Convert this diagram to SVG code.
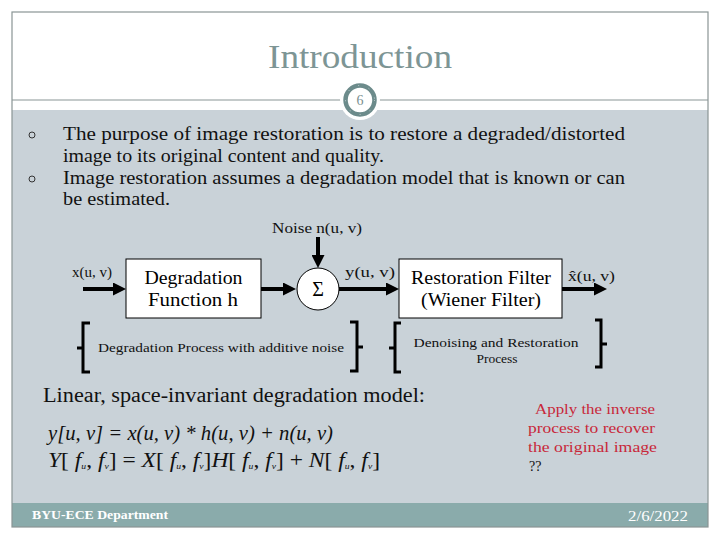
<svg xmlns="http://www.w3.org/2000/svg" width="720" height="540" viewBox="0 0 720 540">
<defs>
<style>
.serif{font-family:"Liberation Serif","DejaVu Serif",serif;}
.lbl{font-family:"Liberation Serif","DejaVu Serif",serif;font-size:15px;fill:#111;}
.boxt{font-family:"Liberation Serif","DejaVu Serif",serif;font-size:18px;fill:#000;text-anchor:middle;}
.bul{font-family:"Liberation Serif","DejaVu Serif",serif;font-size:19px;fill:#111;}
.box{fill:#fff;stroke:#000;stroke-width:1;}
.conn{stroke:#000;stroke-width:4;fill:none;marker-end:url(#ah);}
.brk{stroke:#000;stroke-width:3;fill:none;}
.red{font-family:"Liberation Serif","DejaVu Serif",serif;font-size:15px;fill:#c8283a;}
.eq{font-family:"Liberation Serif","Times New Roman",serif;font-size:22px;fill:#111;}
.it{font-style:italic;}
</style>
<marker id="ah" markerUnits="userSpaceOnUse" markerWidth="13" markerHeight="13" refX="2" refY="6.5" orient="auto">
<path d="M0,0 L13,6.5 L0,13 z" fill="#000"/>
</marker>
</defs>
<rect x="0" y="0" width="720" height="540" fill="#fff"/>
<rect x="12" y="110" width="696" height="393" fill="#c9d2d8"/>
<rect x="12" y="503" width="696" height="24" fill="#8aabab"/>
<rect x="12" y="12" width="696" height="515" fill="none" stroke="#8a9595" stroke-width="1.2"/>
<line x1="12" y1="100" x2="708" y2="100" stroke="#8a9595" stroke-width="1.2"/>
<g id="slide-number">
<circle cx="360" cy="100" r="20" fill="#fff"/>
<circle cx="360" cy="100" r="14.5" fill="#fff" stroke="#6c8b8b" stroke-width="4.5"/>
<circle cx="360" cy="100" r="14.5" fill="none" stroke="#c8d6d6" stroke-width="1" stroke-dasharray="1 10"/>
<text x="360" y="105" class="serif" font-size="14" fill="#7a8f8f" text-anchor="middle">6</text>
</g>
<text x="360" y="68" class="serif" font-size="34" fill="#7d9595" text-anchor="middle" textLength="184" lengthAdjust="spacingAndGlyphs">Introduction</text>
<g id="bullets">
<circle cx="32" cy="135" r="3" fill="none" stroke="#333" stroke-width="1"/>
<circle cx="32" cy="179" r="3" fill="none" stroke="#333" stroke-width="1"/>
<text x="63" y="140" class="bul" textLength="562" lengthAdjust="spacingAndGlyphs">The purpose of image restoration is to restore a degraded/distorted</text>
<text x="63" y="162" class="bul" textLength="321" lengthAdjust="spacingAndGlyphs">image to its original content and quality.</text>
<text x="63" y="184" class="bul" textLength="562" lengthAdjust="spacingAndGlyphs">Image restoration assumes a degradation model that is known or can</text>
<text x="63" y="205" class="bul" textLength="107" lengthAdjust="spacingAndGlyphs">be estimated.</text>
</g>
<g id="connectors">
<line class="conn" x1="83" y1="289" x2="115" y2="289"/>
<line class="conn" x1="261" y1="289" x2="285" y2="289"/>
<line class="conn" x1="318" y1="237" x2="318" y2="257"/>
<line class="conn" x1="339" y1="289" x2="388" y2="289"/>
<line class="conn" x1="562" y1="289" x2="596" y2="289"/>
</g>
<g id="input-label"><text x="72" y="277" class="lbl">x(u, v)</text></g>
<g id="noise-label"><text x="272" y="233" class="lbl" textLength="90" lengthAdjust="spacingAndGlyphs">Noise n(u, v)</text></g>
<g id="degradation">
<rect class="box" x="126" y="259" width="135" height="59"/>
<text x="193.5" y="284" class="boxt" textLength="98" lengthAdjust="spacingAndGlyphs">Degradation</text>
<text x="193" y="306" class="boxt" textLength="90" lengthAdjust="spacingAndGlyphs">Function  h</text>
</g>
<g id="sum">
<circle cx="318" cy="289" r="21" fill="#fff" stroke="#000" stroke-width="1"/>
<text x="318" y="296" class="serif" font-size="20" fill="#000" text-anchor="middle">Σ</text>
</g>
<g id="y-label"><text x="345" y="277" class="lbl" textLength="50" lengthAdjust="spacingAndGlyphs">y(u, v)</text></g>
<g id="restoration">
<rect class="box" x="399" y="259" width="163" height="59"/>
<text x="481" y="284" class="boxt" textLength="140" lengthAdjust="spacingAndGlyphs">Restoration Filter</text>
<text x="481" y="306" class="boxt" textLength="120" lengthAdjust="spacingAndGlyphs">(Wiener Filter)</text>
</g>
<g id="xhat-label">
<text x="568" y="281" class="lbl" textLength="47" lengthAdjust="spacingAndGlyphs">x̂(u, v)</text>
</g>
<g id="degradation-process">
<path class="brk" d="M90,323 H83 V372 H90 M83,348 H77"/>
<path class="brk" d="M350,322 H357 V371 H350 M357,347 H363"/>
<text x="98" y="352" class="serif" font-size="13.5" fill="#111" textLength="246" lengthAdjust="spacingAndGlyphs">Degradation Process with additive noise</text>
</g>
<g id="restoration-process">
<path class="brk" d="M401,323 H395 V372 H401 M395,348 H389"/>
<path class="brk" d="M595,320 H601 V367 H595 M601,344 H607"/>
<text x="496" y="347" class="serif" font-size="13.5" fill="#111" text-anchor="middle" textLength="165" lengthAdjust="spacingAndGlyphs">Denoising and Restoration</text>
<text x="497" y="363" class="serif" font-size="13.5" fill="#111" text-anchor="middle">Process</text>
</g>
<text x="43" y="402" class="serif" font-size="20" fill="#111" textLength="382" lengthAdjust="spacingAndGlyphs">Linear, space-invariant degradation model:</text>
<text x="48" y="440" class="eq it" textLength="285" lengthAdjust="spacingAndGlyphs">y[u, v] = x(u, v) * h(u, v) + n(u, v)</text>
<text x="48" y="467" class="eq" textLength="332" lengthAdjust="spacingAndGlyphs"><tspan class="it">Y</tspan>[ <tspan class="it">f</tspan><tspan class="it" font-size="9" dy="2">u</tspan><tspan dy="-2">, </tspan><tspan class="it">f</tspan><tspan class="it" font-size="9" dy="2">v</tspan><tspan dy="-2">] = </tspan><tspan class="it">X</tspan>[ <tspan class="it">f</tspan><tspan class="it" font-size="9" dy="2">u</tspan><tspan dy="-2">, </tspan><tspan class="it">f</tspan><tspan class="it" font-size="9" dy="2">v</tspan><tspan dy="-2">]</tspan><tspan class="it">H</tspan>[ <tspan class="it">f</tspan><tspan class="it" font-size="9" dy="2">u</tspan><tspan dy="-2">, </tspan><tspan class="it">f</tspan><tspan class="it" font-size="9" dy="2">v</tspan><tspan dy="-2">] + </tspan><tspan class="it">N</tspan>[ <tspan class="it">f</tspan><tspan class="it" font-size="9" dy="2">u</tspan><tspan dy="-2">, </tspan><tspan class="it">f</tspan><tspan class="it" font-size="9" dy="2">v</tspan><tspan dy="-2">]</tspan></text>
<g id="note">
<text x="535" y="414" class="red" textLength="120" lengthAdjust="spacingAndGlyphs">Apply the inverse</text>
<text x="528" y="433" class="red" textLength="127" lengthAdjust="spacingAndGlyphs">process to recover</text>
<text x="528" y="452" class="red" textLength="129" lengthAdjust="spacingAndGlyphs">the original image</text>
<text x="529" y="471" class="serif" font-size="14" fill="#111">??</text>
</g>
<text x="32" y="519" class="serif" font-size="13" font-weight="bold" fill="#fff" textLength="136" lengthAdjust="spacingAndGlyphs">BYU-ECE Department</text>
<text x="688" y="521" class="serif" font-size="14" fill="#fff" text-anchor="end" textLength="60" lengthAdjust="spacingAndGlyphs">2/6/2022</text>
</svg>
